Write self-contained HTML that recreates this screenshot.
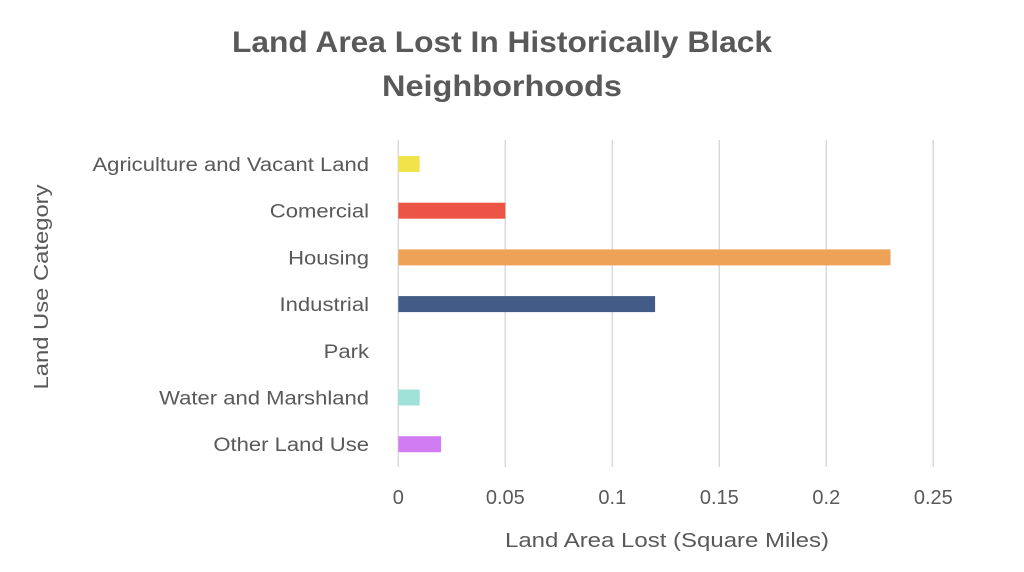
<!DOCTYPE html>
<html><head><meta charset="utf-8"><style>
body{margin:0;background:#fff;}
svg text{font-family:"Liberation Sans",sans-serif;}
</style></head><body>
<svg width="1024" height="567" xmlns="http://www.w3.org/2000/svg">
<text x="502" y="52" text-anchor="middle" font-size="30" font-weight="bold" fill="#595959" textLength="540" lengthAdjust="spacingAndGlyphs">Land Area Lost In Historically Black</text>
<text x="502" y="96" text-anchor="middle" font-size="30" font-weight="bold" fill="#595959" textLength="240" lengthAdjust="spacingAndGlyphs">Neighborhoods</text>
<g id="grid"></g><g id="bars"></g><g id="ylabels"></g><g id="xticks"></g>
<text x="667" y="547" text-anchor="middle" font-size="20" fill="#595959" textLength="324" lengthAdjust="spacingAndGlyphs">Land Area Lost (Square Miles)</text>
<text transform="translate(48,287) rotate(-90)" text-anchor="middle" font-size="20" fill="#595959" textLength="205" lengthAdjust="spacingAndGlyphs">Land Use Category</text>
</svg>
<script>
const categories=["Agriculture and Vacant Land","Comercial","Housing","Industrial","Park","Water and Marshland","Other Land Use"];
const values=[0.01,0.05,0.23,0.12,0,0.01,0.02];
const colors=["#f3e34b","#ec5545","#eda257","#435b87","#ffffff","#9fe1d6","#d27cf3"];
const ticks=[0,0.05,0.1,0.15,0.2,0.25];
const NS="http://www.w3.org/2000/svg";
const x=v=>398.3+v*2140;
const y=i=>164+i*46.7;
function mk(t,a,p){const e=document.createElementNS(NS,t);for(const k in a)e.setAttribute(k,a[k]);p.appendChild(e);return e;}
const grid=document.getElementById('grid'),bars=document.getElementById('bars'),yl=document.getElementById('ylabels'),xt=document.getElementById('xticks');
ticks.forEach(t=>{
 const l=mk('line',{x1:x(t),x2:x(t),y1:140,y2:467,stroke:'#d9d9d9','stroke-width':1.5},grid);
 
 
 const tx=mk('text',{x:x(t),y:504,'text-anchor':'middle','font-size':20,fill:'#595959'},xt);
 tx.textContent=String(t);
 
 
});
categories.forEach((c,i)=>{
 const r=mk('rect',{x:x(0),y:y(i)-8,width:Math.max(0,x(values[i])-x(0)),height:16,fill:colors[i]},bars);
 
 
 const t=mk('text',{x:369,y:y(i)+7,'text-anchor':'end','font-size':19,fill:'#595959'},yl);
 t.textContent=c;
 
 
 const w=t.getComputedTextLength();
 t.setAttribute('textLength',w*1.16);
 t.setAttribute('lengthAdjust','spacingAndGlyphs');
});
</script>
</body></html>
